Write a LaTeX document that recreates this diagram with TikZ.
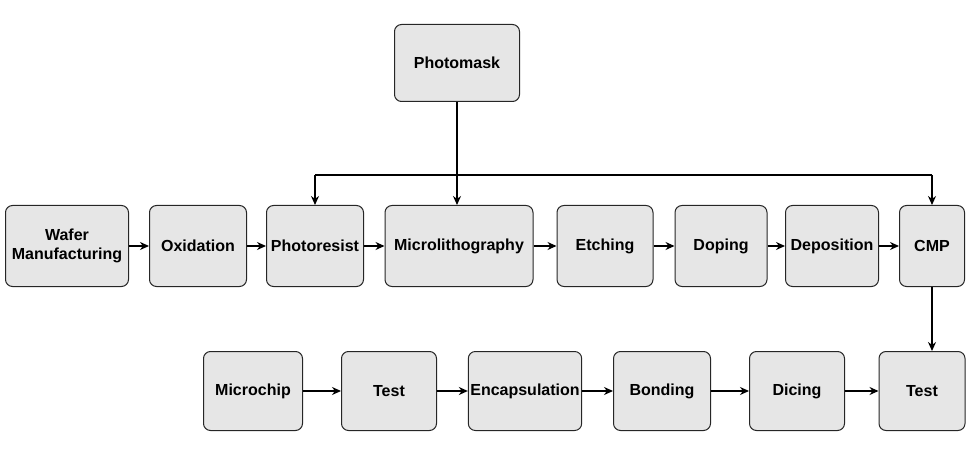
\documentclass[tikz,border=0pt]{standalone}
\usepackage{fontspec}
\setmainfont{Liberation Sans}
\usetikzlibrary{arrows.meta,positioning}
\definecolor{boxgray}{RGB}{230,230,230}

\begin{document}
\begin{tikzpicture}[x=1pt,y=-1pt,
    stage/.style={rectangle,rounded corners=7pt,draw=black!85,line width=1pt,fill=boxgray,
      font=\bfseries\fontsize{16}{19}\selectfont,align=center,inner sep=2pt},
    flow/.style={-{Stealth[length=9pt,width=8pt]},line width=1.4pt},
   ]
    \useasboundingbox (0,0) rectangle (974,470);

    \node (mask)  [stage,minimum width=125pt,minimum height=77pt] at (457,63) {Photomask};

    % first row
    \node (wafer) [stage,minimum width=123pt,minimum height=81pt] at (67,246) {Wafer\\Manufacturing};
    \node (oxid)  [stage,minimum width=97pt,minimum height=81pt] at (198,246) {Oxidation};
    \node (resist)[stage,minimum width=97pt,minimum height=81pt] at (315,246) {Photoresist};
    \node (litho) [stage,minimum width=148pt,minimum height=81pt] at (459,246) {Microlithography};
    \node (etch)  [stage,minimum width=96pt,minimum height=81pt] at (605,246) {Etching};
    \node (dope)  [stage,minimum width=92pt,minimum height=81pt] at (721,246) {Doping};
    \node (depo)  [stage,minimum width=93pt,minimum height=81pt] at (832,246) {Deposition};
    \node (cmp)   [stage,minimum width=65pt,minimum height=81pt] at (932,246) {CMP};

    % second row
    \node (chip)  [stage,minimum width=99pt,minimum height=79pt] at (253,391) {Microchip};
    \node (testa) [stage,minimum width=95pt,minimum height=79pt] at (389,391) {Test};
    \node (encap) [stage,minimum width=109pt,minimum height=79pt] at (525,391) {Encapsulation};
    \node (bond)  [stage,minimum width=97pt,minimum height=79pt] at (662,391) {Bonding};
    \node (dice)  [stage,minimum width=95pt,minimum height=79pt] at (797,391) {Dicing};
    \node (testb) [stage,minimum width=86pt,minimum height=79pt] at (922,391) {Test};

    \coordinate (left)  at (315,175);
    \coordinate (right) at (932,175);

    \draw[flow] (mask.south) -- (mask.south |- litho.north);
    \draw[line width=1.4pt] (left) -- (right);
    \draw[flow] (left) -- (resist.north);
    \draw[flow] (right) -- (cmp.north);

    \foreach \a/\b in {wafer/oxid,oxid/resist,resist/litho,litho/etch,etch/dope,dope/depo,depo/cmp,
                       chip/testa,testa/encap,encap/bond,bond/dice,dice/testb}
      \draw[flow] (\a) -- (\b);
    \draw[flow] (cmp.south) -- (cmp.south |- testb.north);
\end{tikzpicture}
\end{document}
